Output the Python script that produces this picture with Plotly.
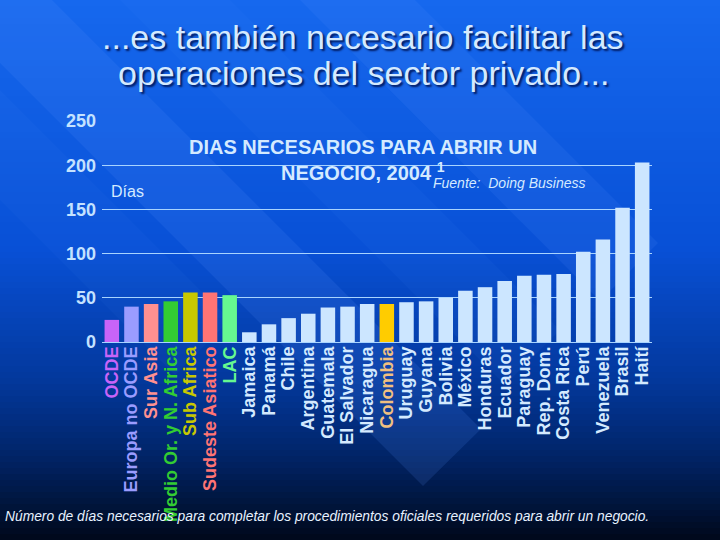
import plotly.graph_objects as go

# ---------------- data ----------------
categories = ["OCDE", "Europa no OCDE", "Sur Asia", "Medio Or. y N. Africa", "Sub Africa",
              "Sudeste Asiatico", "LAC", "Jamaica", "Panamá", "Chile", "Argentina",
              "Guatemala", "El Salvador", "Nicaragua", "Colombia", "Uruguay", "Guyana",
              "Bolivia", "México", "Honduras", "Ecuador", "Paraguay", "Rep. Dom.",
              "Costa Rica", "Perú", "Venezuela", "Brasil", "Haití"]
days = [25, 40, 43, 46, 56, 56, 53, 11, 20, 27, 32, 39, 40, 43, 43, 45, 46, 50, 58,
        62, 69, 75, 76, 77, 102, 116, 152, 203]
bar_colors = ["#c864f8", "#9a9cff", "#ff9090", "#33cc33", "#c8c800", "#ff7474", "#66f890"] \
    + ["#cce6ff"] * 7 + ["#ffcc00"] + ["#cce6ff"] * 13
label_colors = ["#c864f8", "#9a9cff", "#ff9090", "#33cc33", "#c8c800", "#ff7474", "#66f890"] \
    + ["#d4eaff"] * 7 + ["#f0c080"] + ["#d4eaff"] * 13
y_ticks = [0, 50, 100, 150, 200, 250]

title_lines = ["...es también necesario facilitar las", "operaciones del sector privado..."]
chart_title_lines = ["DIAS NECESARIOS PARA ABRIR UN", "NEGOCIO, 2004 <sup>1</sup>"]
source_text = "Fuente:  Doing Business"
unit_text = "Días"
footnote = ("Número de días necesarios para completar los procedimientos oficiales "
            "requeridos para abrir un negocio.")

# ---------------- layout geometry ----------------
WIDTH, HEIGHT = 720, 540
L, R, T, B = 102, 652, 121, 342
PW, PH = R - L, B - T


def px(x):
    return (x - L) / PW


def py(y):
    return (B - y) / PH


TEXT = "#d4eaff"
FONT = "Liberation Sans, Arial, sans-serif"

fig = go.Figure()
fig.add_trace(go.Bar(
    x=categories, y=days,
    marker=dict(color=bar_colors, line=dict(width=0)),
    hoverinfo="x+y",
))

# ---------------- background gradient ----------------
stops = [(0, (22, 104, 238)), (250, (8, 80, 214)), (380, (3, 56, 156)),
         (450, (1, 38, 108)), (500, (0, 22, 64)), (540, (0, 8, 26))]


def color_at(y):
    for (y0, c0), (y1, c1) in zip(stops[:-1], stops[1:]):
        if y0 <= y <= y1:
            t = (y - y0) / (y1 - y0)
            return "rgb(%d,%d,%d)" % tuple(round(a + (b - a) * t) for a, b in zip(c0, c1))
    return "rgb(%d,%d,%d)" % stops[-1][1]


shapes = []
step = 6
for y in range(0, HEIGHT, step):
    shapes.append(dict(type="rect", xref="paper", yref="paper", layer="below",
                       x0=px(-5), x1=px(WIDTH + 5), y0=py(y + step + 0.5), y1=py(y),
                       fillcolor=color_at(y + step / 2), line=dict(width=0)))


def poly(points, color):
    path = "M " + " L ".join("%f,%f" % (px(a), py(b)) for a, b in points) + " Z"
    return dict(type="path", xref="paper", yref="paper", layer="below", path=path,
                fillcolor=color, line=dict(width=0))


# decorative diagonal light bands
shapes.append(poly([(-63, 0), (52, 0), (481, 429), (423, 486)], "rgba(90,150,255,0.14)"))
shapes.append(poly([(300, 0), (415, 0), (658, 243), (600, 301)], "rgba(90,150,255,0.12)"))
shapes.append(poly([(120, 0), (230, 0), (560, 330), (505, 385)], "rgba(90,150,255,0.06)"))
shapes.append(poly([(-200, 0), (-90, 0), (230, 320), (175, 375)], "rgba(90,150,255,0.05)"))

fig.update_layout(shapes=shapes)

# ---------------- annotations ----------------
annotations = []
for line, yc in zip(title_lines, [37, 73]):
    annotations.append(dict(text=line, xref="paper", yref="paper", x=px(363), y=py(yc),
                            xanchor="center", yanchor="middle", showarrow=False,
                            font=dict(family=FONT, size=34, color="#d4eaff",
                                      shadow="2px 2px 2px #001a60")))
for line, yc in zip(chart_title_lines, [147, 171]):
    annotations.append(dict(text=line, xref="paper", yref="paper", x=px(363), y=py(yc),
                            xanchor="center", yanchor="middle", showarrow=False,
                            font=dict(family=FONT, size=20, color=TEXT, weight="bold")))
annotations += [
    dict(text=source_text, xref="paper", yref="paper", x=px(431), y=py(183),
         xanchor="left", yanchor="middle", showarrow=False,
         font=dict(family=FONT, size=14, color=TEXT, style="italic")),
    dict(text=unit_text, xref="paper", yref="paper", x=px(109), y=py(191),
         xanchor="left", yanchor="middle", showarrow=False,
         font=dict(family=FONT, size=16, color=TEXT)),
    dict(text=footnote, xref="paper", yref="paper", x=px(3), y=py(516),
         xanchor="left", yanchor="middle", showarrow=False,
         font=dict(family=FONT, size=13.8, color="#e8f2ff", style="italic")),
]

ticktext = ["<span style='color:%s'>%s</span>" % (c, n) for n, c in zip(categories, label_colors)]

fig.update_layout(
    width=WIDTH, height=HEIGHT,
    margin=dict(l=L, r=WIDTH - R, t=T, b=HEIGHT - B, autoexpand=False),
    paper_bgcolor="#0850d0",
    plot_bgcolor="rgba(0,0,0,0)",
    showlegend=False,
    bargap=0.26,
    annotations=annotations,
    xaxis=dict(tickmode="array", tickvals=categories, ticktext=ticktext,
               tickangle=-90, showgrid=False, showline=False, zeroline=False,
               ticks="", automargin=False,
               tickfont=dict(family=FONT, size=18, weight="bold", color=TEXT)),
    yaxis=dict(range=[0, 250], tickvals=y_ticks, showgrid=True,
               gridcolor="#a8d4ff", gridwidth=1, zeroline=True,
               zerolinecolor="#a8d4ff", zerolinewidth=1, showline=False,
               ticks="", automargin=False, ticklabelstandoff=5,
               tickfont=dict(family=FONT, size=18, weight="bold", color="#c4e2ff")),
)

fig.write_html("out.html", config={"displayModeBar": False},
               post_script="document.body.style.margin='0';document.body.style.overflow='hidden';")
